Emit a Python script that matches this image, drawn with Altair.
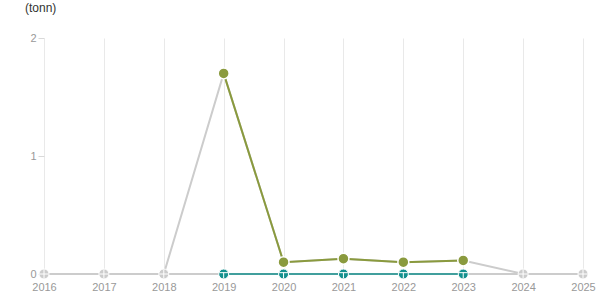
import altair as alt
import pandas as pd

years = [2016, 2017, 2018, 2019, 2020, 2021, 2022, 2023, 2024, 2025]
main_values = [0, 0, 0, 1.70, 0.10, 0.13, 0.10, 0.115, 0, 0]
zero_values = [0, 0, 0, 0, 0, 0, 0, 0, 0, 0]
active_years = [2019, 2020, 2021, 2022, 2023]
grid_values = [2016, 2016.5, 2017, 2017.5, 2018, 2018.5, 2019, 2019.5, 2020, 2020.5,
               2021, 2021.5, 2022, 2022.5, 2023, 2023.5, 2024, 2024.5, 2025]
y_ticks = [0, 1, 2]

GREEN = "#8a9a3e"
TEAL = "#13908e"
GREY = "#cccccc"

df = pd.concat([
    pd.DataFrame({"year": years, "value": main_values, "kind": "main"}),
    pd.DataFrame({"year": years, "value": zero_values, "kind": "zero"}),
], ignore_index=True)
df["active"] = df["year"].isin(active_years)

x = alt.X("year:Q", scale=alt.Scale(domain=[2016, 2025], nice=False, zero=False),
          axis=alt.Axis(values=grid_values, format="d",
                        labelExpr="datum.value % 1 == 0 ? datum.label : ''",
                        grid=True, gridColor="#e9e9e9", gridWidth=1,
                        ticks=False, domain=False, labelPadding=7,
                        labelColor="#999999", labelFontSize=11, labelFont="Arial",
                        title=None, labelFlush=False))
y = alt.Y("value:Q", scale=alt.Scale(domain=[0, 2], nice=False),
          axis=alt.Axis(values=y_ticks, format=".0f", grid=False, domain=False,
                        ticks=True, tickColor="#d9d9d9", tickSize=6,
                        labelColor="#999999", labelFontSize=11, labelFont="Arial",
                        labelPadding=2, title=None))

base = alt.Chart(df).encode(x=x, y=y)
main = base.transform_filter("datum.kind == 'main'")
zero = base.transform_filter("datum.kind == 'zero'")

grey_main_line = main.mark_line(color=GREY, strokeWidth=2)
grey_zero_line = zero.mark_line(color=GREY, strokeWidth=2)
teal_line = zero.transform_filter("datum.active").mark_line(color=TEAL, strokeWidth=1.5)
green_line = main.transform_filter("datum.active").mark_line(color=GREEN, strokeWidth=2)

grey_pts = zero.transform_filter("!datum.active").mark_point(
    filled=True, color=GREY, size=100, opacity=1, stroke="white", strokeWidth=1)
grey_cross = zero.transform_filter("!datum.active").mark_point(
    shape="M-1,0L1,0M0,-1L0,1", filled=False, color="white", size=80, opacity=1, strokeWidth=1)
teal_pts = zero.transform_filter("datum.active").mark_point(
    filled=True, color=TEAL, size=100, opacity=1, stroke="white", strokeWidth=1)
teal_cross = zero.transform_filter("datum.active").mark_point(
    shape="M-1,-0.3L1,-0.3M0,-0.3L0,1", filled=False, color="white", size=80, opacity=1, strokeWidth=1)
green_pts = main.transform_filter("datum.active").mark_point(
    filled=True, color=GREEN, size=120, opacity=1, stroke="white", strokeWidth=1.5)

chart = alt.layer(
    grey_main_line, grey_zero_line, teal_line, green_line,
    grey_pts, grey_cross, teal_pts, teal_cross, green_pts
).properties(
    width=539, height=236,
    title=alt.TitleParams("(tonn)", anchor="start", frame="group", dx=-19, offset=17,
                          fontSize=12, fontWeight="normal", color="#333333", font="Arial"),
    padding={"left": 44, "top": 38, "right": 32, "bottom": 31},
    autosize=alt.AutoSizeParams(type="none"),
).configure_view(stroke=None)

chart.save("out.html", embed_options={"renderer": "svg", "actions": False})
